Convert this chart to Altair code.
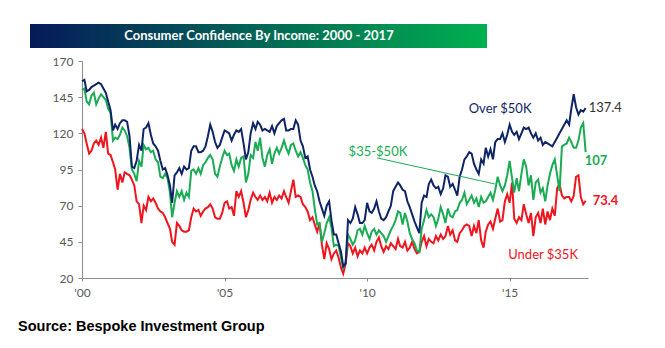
import altair as alt
import pandas as pd

# ---- data (monthly, Jan 2000 - Sep 2017) ----
over_50k = [
    156, 157, 149, 150, 152, 153, 154, 155, 154, 151, 148, 142,   # 2000
    136, 122, 126, 123, 127, 129, 129, 128, 118, 97, 96, 101,     # 2001
    112, 108, 123, 124, 127, 119, 113, 111, 108, 101, 95, 96,     # 2002
    91, 84, 72, 91, 93, 96, 92, 97, 95, 96, 108, 111,             # 2003
    111, 107, 107, 108, 111, 118, 126, 121, 114, 110, 112, 117,   # 2004
    122, 121, 120, 115, 119, 122, 121, 123, 113, 102, 107, 120,   # 2005
    127, 123, 128, 126, 122, 123, 122, 121, 125, 120, 125, 127,   # 2006
    129, 130, 122, 122, 123, 123, 129, 126, 115, 111, 103, 104,   # 2007
    95, 90, 84, 80, 73, 68, 63, 70, 73, 60, 50, 50,               # 2008
    44, 38, 28, 30, 60, 58, 61, 69, 64, 58, 58, 60,               # 2009
    72, 66, 65, 68, 73, 66, 61, 60, 62, 66, 70, 80,               # 2010
    83, 86, 84, 81, 80, 73, 69, 64, 59, 55, 51, 72,               # 2011
    77, 76, 85, 88, 84, 82, 83, 78, 82, 91, 90, 83,               # 2012
    85, 81, 77, 90, 95, 102, 104, 107, 106, 99, 95, 92,           # 2013
    102, 99, 110, 104, 109, 102, 114, 116, 116, 120, 114, 119,    # 2014
    126, 121, 119, 121, 116, 120, 124, 123, 124, 120, 117, 120,   # 2015
    115, 117, 112, 114, 113, 112, 111, 114, 117, 120, 123, 126,   # 2016
    129, 126, 137, 147, 138, 133, 136, 135, 137.4,                # 2017
]
mid_35_50k = [
    150, 151, 142, 140, 146, 148, 140, 144, 147, 145, 143, 137,
    134, 115, 117, 116, 119, 124, 122, 118, 110, 95, 92, 87,
    101, 97, 112, 109, 110, 107, 108, 102, 100, 90, 89, 92,
    89, 79, 62, 72, 80, 76, 80, 74, 79, 76, 94, 95,
    92, 96, 92, 98, 100, 103, 105, 102, 92, 90, 97, 103,
    108, 105, 106, 98, 94, 102, 97, 103, 104, 86, 92, 105,
    103, 114, 108, 117, 103, 97, 105, 109, 99, 106, 110, 106,
    110, 115, 110, 106, 112, 113, 108, 104, 107, 103, 98, 95,
    86, 80, 68, 57, 58, 45, 51, 58, 62, 55, 42, 43,
    42, 34, 27, 31, 50, 47, 43, 46, 53, 54, 50, 56,
    51, 47, 52, 54, 50, 53, 51, 49, 45, 49, 53, 56,
    60, 66, 65, 57, 65, 59, 51, 47, 44, 39, 38, 54,
    60, 67, 62, 64, 62, 56, 61, 69, 64, 58, 68, 63,
    62, 66, 67, 72, 74, 79, 71, 74, 77, 72, 75, 69,
    76, 72, 73, 76, 79, 74, 81, 90, 84, 80, 84, 91,
    101, 89, 79, 89, 80, 92, 102, 97, 84, 91, 74, 86,
    88, 79, 82, 73, 84, 92, 98, 102, 91, 80, 111, 112,
    113, 117, 114, 110, 110, 115, 124, 127, 107,
]
under_35k = [
    123, 120, 113, 106, 108, 113, 115, 112, 117, 110, 121, 106,
    105, 100, 95, 81, 92, 86, 93, 92, 91, 88, 84, 73,
    71, 58, 70, 67, 76, 73, 75, 72, 68, 66, 65, 62,
    58, 54, 45, 43, 58, 56, 53, 52, 52, 53, 62, 68,
    66, 67, 63, 66, 68, 69, 71, 68, 62, 61, 61, 65,
    72, 73, 68, 69, 63, 80, 76, 80, 72, 62, 67, 74,
    79, 76, 74, 77, 74, 76, 73, 79, 72, 76, 74, 77,
    75, 80, 76, 72, 80, 88, 76, 77, 76, 71, 69, 66,
    60, 62, 57, 52, 58, 43, 33, 44, 40, 33, 37, 39,
    34, 27, 23, 30, 44, 42, 37, 41, 35, 39, 37, 41,
    37, 41, 43, 39, 45, 48, 42, 38, 42, 40, 44, 42,
    40, 47, 42, 41, 45, 39, 41, 45, 40, 37, 38, 45,
    49, 42, 47, 45, 44, 49, 46, 50, 47, 49, 56, 50,
    53, 46, 45, 51, 53, 56, 57, 56, 49, 56, 51, 60,
    46, 41, 52, 57, 59, 54, 61, 68, 59, 60, 73, 78,
    72, 86, 61, 58, 62, 60, 71, 64, 58, 65, 49, 62,
    65, 58, 68, 57, 66, 60, 68, 63, 82, 85, 77, 75,
    76, 76, 73, 77, 90, 91, 76, 71, 73.4,
]
dates = pd.date_range("2000-01-01", periods=len(over_50k), freq="MS").strftime("%Y-%m-%d")
year_ticks = [2000, 2005, 2010, 2015]
y_ticks = [20, 45, 70, 95, 120, 145, 170]

NAVY = "#0f2466"
GREEN = "#1aab55"
RED = "#f0141e"

df = pd.DataFrame({"date": list(dates), "over": over_50k, "mid": mid_35_50k, "under": under_35k})

xscale = alt.Scale(type="utc", domain=[alt.DateTime(year=2000, month=1, date=1, utc=True),
                                       alt.DateTime(year=2017, month=10, date=1, utc=True)])
yscale = alt.Scale(domain=[20, 170], nice=False, zero=False)

xaxis = alt.Axis(values=[alt.DateTime(year=y, month=1, date=1, utc=True) for y in year_ticks],
                 labelExpr="\"'\" + utcFormat(datum.value, '%y')", title=None, grid=False,
                 tickSize=3, labelPadding=6, labelFlush=False)
yaxis = alt.Axis(values=y_ticks, title=None, grid=False, tickSize=4, labelPadding=5)


def X(field):
    return alt.X(field, scale=xscale, axis=xaxis)


def Y(field):
    return alt.Y(field, scale=yscale, axis=yaxis)


base = alt.Chart(df)


def line(col, color):
    return base.mark_line(color=color, strokeWidth=2).encode(x=X("date:T"), y=Y(f"{col}:Q"))


layers = [line("under", RED), line("mid", GREEN), line("over", NAVY)]

# annotations (data coordinates)
ann = pd.DataFrame({
    "date": ["2014-09-01", "2010-05-20", "2016-03-05"],
    "value": [136.8, 107.0, 36.0],
    "text": ["Over $50K", "$35-$50K", "Under $35K"],
    "color": [NAVY, GREEN, RED],
})
for _, r in ann.iterrows():
    layers.append(alt.Chart(pd.DataFrame([r])).mark_text(
        font="Lato", fontSize=13, color=r["color"], align="center", baseline="middle"
    ).encode(x=X("date:T"), y=Y("value:Q"), text="text:N"))

leader = pd.DataFrame({"d1": ["2010-05-10"], "v1": [103.0], "d2": ["2014-06-25"], "v2": [85.0]})
layers.append(alt.Chart(leader).mark_rule(color=GREEN, strokeWidth=1).encode(
    x=X("d1:T"), x2="d2:T", y=Y("v1:Q"), y2="v2:Q"))

last_date = dates[-1]
end_labels = [
    ("137.4", over_50k[-1], "#333333", "normal", 3),
    ("107", 101.0, GREEN, "bold", -1),
    ("73.4", under_35k[-1], RED, "bold", 7),
]
for txt, val, col, weight, dx in end_labels:
    layers.append(alt.Chart(pd.DataFrame({"date": [last_date], "value": [val], "t": [txt]})).mark_text(
        font="Lato", fontSize=13, fontWeight=weight, color=col, align="left", baseline="middle", dx=dx
    ).encode(x=X("date:T"), y=Y("value:Q"), text="t:N"))

one = alt.Data(values=[{}])
banner = alt.Chart(one).mark_rect(
    color=alt.Gradient(gradient="linear",
                       stops=[alt.GradientStop(color="#061a5a", offset=0),
                              alt.GradientStop(color="#00b050", offset=1)],
                       x1=0, x2=1, y1=0, y2=0)
).encode(x=alt.value(-52), x2=alt.value(405), y=alt.value(-37), y2=alt.value(-13))
title = alt.Chart(one).mark_text(
    text="Consumer Confidence By Income: 2000 - 2017", font="Lato", fontSize=13,
    fontWeight="bold", color="white", align="center", baseline="middle"
).encode(x=alt.value(177), y=alt.value(-25))
source = alt.Chart(one).mark_text(
    text="Source: Bespoke Investment Group", font="Liberation Sans", fontSize=14.5,
    fontWeight="bold", color="black", align="left", baseline="middle"
).encode(x=alt.value(-64), y=alt.value(266))
layers += [banner, title, source]

chart = alt.layer(*layers).properties(
    width=506, height=217, autosize="none",
    padding={"left": 82, "top": 61, "right": 77, "bottom": 70},
).configure_view(stroke=None).configure_axis(
    domainColor="#8c8c8c", tickColor="#8c8c8c", labelColor="#595959",
    labelFont="Lato", labelFontSize=12,
)

chart.save("out.html", embed_options={"renderer": "svg", "actions": False})
